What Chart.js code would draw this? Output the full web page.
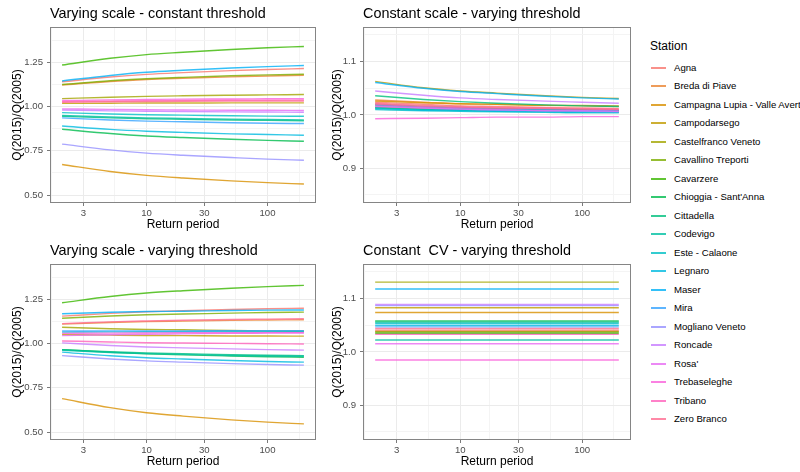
<!DOCTYPE html>
<html><head><meta charset="utf-8">
<script src="https://cdn.jsdelivr.net/npm/chart.js@4/dist/chart.umd.min.js"></script>
<style>
html,body{margin:0;padding:0;background:#fff;}
body{width:800px;height:472px;overflow:hidden;position:relative;font-family:"Liberation Sans",Arial,sans-serif;}
canvas{position:absolute;}
.lg-title{position:absolute;left:650px;top:39px;font-size:12px;line-height:15px;color:#000;white-space:nowrap;}
.lg-key{position:absolute;left:651px;width:15px;height:2px;}
.lg-text{position:absolute;left:674px;font-size:9.6px;line-height:12px;color:#000;white-space:nowrap;}
</style>
</head><body>
<canvas id="p1" width="320" height="235" style="left:0;top:0"></canvas>
<canvas id="p2" width="320" height="235" style="left:320px;top:0"></canvas>
<canvas id="p3" width="320" height="235" style="left:0;top:237px"></canvas>
<canvas id="p4" width="320" height="235" style="left:320px;top:237px"></canvas>
<div id="legend"></div>
<script>
// ---------------- data ----------------
const returnPeriods = [2, 5, 10, 20, 50, 100, 200];
const stations = ["Agna","Breda di Piave","Campagna Lupia - Valle Averto","Campodarsego","Castelfranco Veneto","Cavallino Treporti","Cavarzere","Chioggia - Sant'Anna","Cittadella","Codevigo","Este - Calaone","Legnaro","Maser","Mira","Mogliano Veneto","Roncade","Rosa'","Trebaseleghe","Tribano","Zero Branco"];
const stationColors = ["#F8766D","#EA8331","#D89000","#C09B00","#A3A500","#7CAE00","#39B600","#00BB4E","#00BF7D","#00C1A3","#00BFC4","#00BAE0","#00B0F6","#35A2FF","#9590FF","#C77CFF","#E76BF3","#FA62DB","#FF62BC","#FF6C91"];
const panelTitles = ["Varying scale - constant threshold","Constant scale - varying threshold","Varying scale - varying threshold","Constant  CV - varying threshold"];
const xAxisTitle = "Return period";
const yAxisTitle = "Q(2015)/Q(2005)";
const legendTitle = "Station";
const xTickValues = [3, 10, 30, 100];
const xMinorValues = [1.644, 5.477, 17.32, 54.77, 182.6];
const yTicksWide = [0.5, 0.75, 1.0, 1.25];
const yMinorWide = [0.625, 0.875, 1.125, 1.375];
const yTicksNarrow = [0.9, 1.0, 1.1];
const yMinorNarrow = [0.85, 0.95, 1.05, 1.15];

// Q ratio per station at returnPeriods
const varScaleConstThr = [
  [1.140,1.167,1.182,1.192,1.203,1.210,1.215],
  [1.122,1.142,1.153,1.160,1.168,1.173,1.177],
  [0.673,0.633,0.611,0.596,0.580,0.570,0.562],
  [1.018,1.019,1.020,1.020,1.021,1.021,1.021],
  [1.045,1.053,1.058,1.061,1.064,1.066,1.068],
  [1.125,1.146,1.157,1.165,1.174,1.179,1.183],
  [1.235,1.273,1.294,1.307,1.323,1.333,1.340],
  [0.872,0.848,0.834,0.825,0.815,0.809,0.804],
  [0.945,0.936,0.931,0.928,0.924,0.922,0.920],
  [0.950,0.941,0.936,0.933,0.929,0.927,0.925],
  [0.966,0.958,0.954,0.952,0.948,0.946,0.945],
  [0.890,0.871,0.861,0.854,0.846,0.842,0.838],
  [1.145,1.176,1.194,1.205,1.218,1.226,1.232],
  [0.936,0.924,0.918,0.914,0.909,0.906,0.904],
  [0.788,0.755,0.737,0.725,0.712,0.703,0.697],
  [0.981,0.976,0.974,0.972,0.970,0.969,0.968],
  [0.987,0.984,0.982,0.981,0.979,0.979,0.978],
  [1.034,1.038,1.040,1.042,1.043,1.044,1.045],
  [1.028,1.031,1.033,1.034,1.036,1.036,1.037],
  [1.024,1.027,1.028,1.030,1.031,1.031,1.032]
];
const constScaleVarThr = [
  [1.024,1.020,1.017,1.016,1.014,1.013,1.012],
  [1.028,1.024,1.021,1.020,1.018,1.017,1.016],
  [1.026,1.023,1.021,1.020,1.018,1.018,1.017],
  [1.063,1.051,1.045,1.041,1.036,1.033,1.031],
  [1.015,1.012,1.011,1.010,1.009,1.008,1.008],
  [1.018,1.015,1.013,1.012,1.010,1.010,1.009],
  [1.020,1.016,1.014,1.012,1.011,1.010,1.009],
  [1.013,1.010,1.009,1.008,1.007,1.006,1.006],
  [1.036,1.029,1.025,1.022,1.019,1.017,1.016],
  [1.014,1.011,1.010,1.008,1.007,1.007,1.006],
  [1.010,1.008,1.007,1.006,1.005,1.004,1.004],
  [1.012,1.009,1.008,1.007,1.006,1.005,1.005],
  [1.061,1.050,1.044,1.040,1.035,1.032,1.030],
  [1.019,1.015,1.013,1.011,1.010,1.009,1.008],
  [1.017,1.013,1.011,1.009,1.008,1.007,1.006],
  [1.045,1.037,1.032,1.029,1.026,1.024,1.022],
  [1.016,1.013,1.011,1.010,1.008,1.008,1.007],
  [0.993,0.994,0.995,0.996,0.996,0.997,0.997],
  [1.020,1.016,1.014,1.013,1.012,1.011,1.010],
  [1.022,1.018,1.016,1.014,1.013,1.012,1.011]
];
const varScaleVarThr = [
  [1.155,1.171,1.180,1.186,1.193,1.197,1.200],
  [1.110,1.119,1.124,1.127,1.131,1.133,1.135],
  [0.689,0.638,0.609,0.590,0.569,0.556,0.546],
  [1.051,1.048,1.046,1.045,1.043,1.043,1.042],
  [1.092,1.084,1.080,1.078,1.074,1.072,1.071],
  [1.143,1.156,1.163,1.167,1.172,1.176,1.178],
  [1.231,1.266,1.286,1.299,1.313,1.322,1.329],
  [0.966,0.951,0.942,0.936,0.930,0.926,0.923],
  [0.966,0.954,0.947,0.943,0.937,0.934,0.932],
  [0.962,0.950,0.943,0.939,0.933,0.930,0.928],
  [1.065,1.066,1.067,1.067,1.068,1.068,1.068],
  [0.952,0.931,0.920,0.913,0.904,0.899,0.895],
  [1.169,1.177,1.181,1.183,1.187,1.189,1.190],
  [1.071,1.072,1.072,1.072,1.073,1.073,1.073],
  [0.932,0.913,0.902,0.895,0.887,0.882,0.878],
  [1.004,0.989,0.981,0.976,0.970,0.966,0.963],
  [1.045,1.050,1.053,1.055,1.058,1.059,1.060],
  [1.058,1.059,1.060,1.061,1.061,1.062,1.062],
  [1.015,1.009,1.005,1.003,1.001,0.999,0.998],
  [1.113,1.123,1.128,1.132,1.136,1.138,1.140]
];
// constant CV: one ratio per station, identical for all return periods
const constCvVarThr = [1.041,1.039,1.074,1.083,1.131,1.0375,1.035,1.058,1.056,1.0225,1.054,1.050,1.118,1.047,1.087,1.089,1.0155,0.985,1.033,1.044];

// ---------------- drawing ----------------
const FONT = '"Liberation Sans", Arial, sans-serif';
Chart.defaults.font.family = FONT;

function rgba(hex, a) {
  const n = parseInt(hex.slice(1), 16);
  return `rgba(${(n>>16)&255},${(n>>8)&255},${n&255},${a})`;
}

const panelBorder = {
  id: 'panelBorder',
  afterDatasetsDraw(chart) {
    const a = chart.chartArea, c = chart.ctx;
    c.save();
    c.strokeStyle = '#858585';
    c.lineWidth = 1;
    c.strokeRect(Math.round(a.left) + 0.5, Math.round(a.top) + 0.5, Math.round(a.right - a.left) - 1, Math.round(a.bottom - a.top) - 1);
    c.restore();
  }
};

function makePanel(id, title, seriesFor, yMin, yMax, yMajor, yMinor, decimals, axisWidth, rightPad) {
  const datasets = stations.map((name, i) => ({
    label: name,
    data: seriesFor(i),
    borderColor: rgba(stationColors[i], 0.8),
    borderWidth: 1.4,
    pointRadius: 0,
    fill: false,
    cubicInterpolationMode: 'monotone',
    order: stations.length - i
  }));
  const xAll = [...xMinorValues, ...xTickValues].sort((a, b) => a - b);
  const yAll = [...yMinor, ...yMajor].sort((a, b) => a - b);
  const isXMajor = v => xTickValues.includes(v);
  const isYMajor = v => yMajor.includes(v);
  new Chart(document.getElementById(id), {
    type: 'line',
    data: { datasets },
    plugins: [panelBorder],
    options: {
      responsive: false,
      animation: false,
      devicePixelRatio: 1,
      layout: { padding: { left: 0, right: rightPad, top: 0, bottom: 0 } },
      plugins: {
        legend: { display: false },
        tooltip: { enabled: false },
        title: {
          display: true, text: title, align: 'start', fullSize: false,
          color: '#000', font: { size: 14.4, weight: 'normal', family: FONT },
          padding: { top: 5.4, bottom: 4.3 }
        }
      },
      scales: {
        x: {
          type: 'logarithmic', min: 1.589, max: 251.8,
          afterBuildTicks: s => { s.ticks = xAll.map(v => ({ value: v })); },
          afterFit: s => { s.height = 32; },
          ticks: {
            autoSkip: false, maxRotation: 0, minRotation: 0, padding: 2,
            color: '#4D4D4D', font: { size: 9.6, family: FONT },
            callback: v => isXMajor(v) ? String(v) : ''
          },
          grid: {
            drawTicks: true, tickLength: 3,
            color: c => (c.tick && isXMajor(c.tick.value)) ? '#EBEBEB' : '#F4F4F4',
            lineWidth: 1,
            tickColor: c => (c.tick && isXMajor(c.tick.value)) ? '#7a7a7a' : 'rgba(0,0,0,0)'
          },
          border: { display: false },
          title: {
            display: true, text: xAxisTitle, color: '#000',
            font: { size: 12, family: FONT }, padding: { top: 0, bottom: 3 }
          }
        },
        y: {
          type: 'linear', min: yMin, max: yMax,
          afterBuildTicks: s => { s.ticks = yAll.map(v => ({ value: v })); },
          afterFit: s => { s.width = axisWidth; },
          ticks: {
            autoSkip: false, padding: 4,
            color: '#4D4D4D', font: { size: 9.6, family: FONT },
            callback: v => isYMajor(v) ? v.toFixed(decimals) : ''
          },
          grid: {
            drawTicks: true, tickLength: 3,
            color: c => (c.tick && isYMajor(c.tick.value)) ? '#EBEBEB' : '#F4F4F4',
            lineWidth: 1,
            tickColor: c => (c.tick && isYMajor(c.tick.value)) ? '#7a7a7a' : 'rgba(0,0,0,0)'
          },
          border: { display: false },
          title: {
            display: true, text: yAxisTitle, color: '#000',
            font: { size: 12, family: FONT }, padding: { top: 10, bottom: 0 }
          }
        }
      }
    }
  });
}

const curve = table => i => returnPeriods.map((t, k) => ({ x: t, y: table[i][k] }));
const flat = list => i => [
  { x: returnPeriods[0], y: list[i] },
  { x: returnPeriods[returnPeriods.length - 1], y: list[i] }
];

makePanel('p1', panelTitles[0], curve(varScaleConstThr), 0.455, 1.45, yTicksWide, yMinorWide, 2, 50, 4);
makePanel('p2', panelTitles[1], curve(constScaleVarThr), 0.835, 1.165, yTicksNarrow, yMinorNarrow, 1, 43, 9);
makePanel('p3', panelTitles[2], curve(varScaleVarThr), 0.455, 1.45, yTicksWide, yMinorWide, 2, 50, 4);
makePanel('p4', panelTitles[3], flat(constCvVarThr), 0.835, 1.165, yTicksNarrow, yMinorNarrow, 1, 43, 9);

// legend
const lg = document.getElementById('legend');
const t = document.createElement('div');
t.className = 'lg-title'; t.textContent = legendTitle; lg.appendChild(t);
stations.forEach((name, i) => {
  const cy = 67.7 + 18.5 * i;
  const k = document.createElement('div');
  k.className = 'lg-key';
  k.style.top = Math.round(cy - 1) + 'px';
  k.style.backgroundColor = rgba(stationColors[i], 0.8);
  lg.appendChild(k);
  const s = document.createElement('div');
  s.className = 'lg-text';
  s.style.top = Math.round(cy - 6) + 'px';
  s.textContent = name;
  lg.appendChild(s);
});
</script>
</body></html>
